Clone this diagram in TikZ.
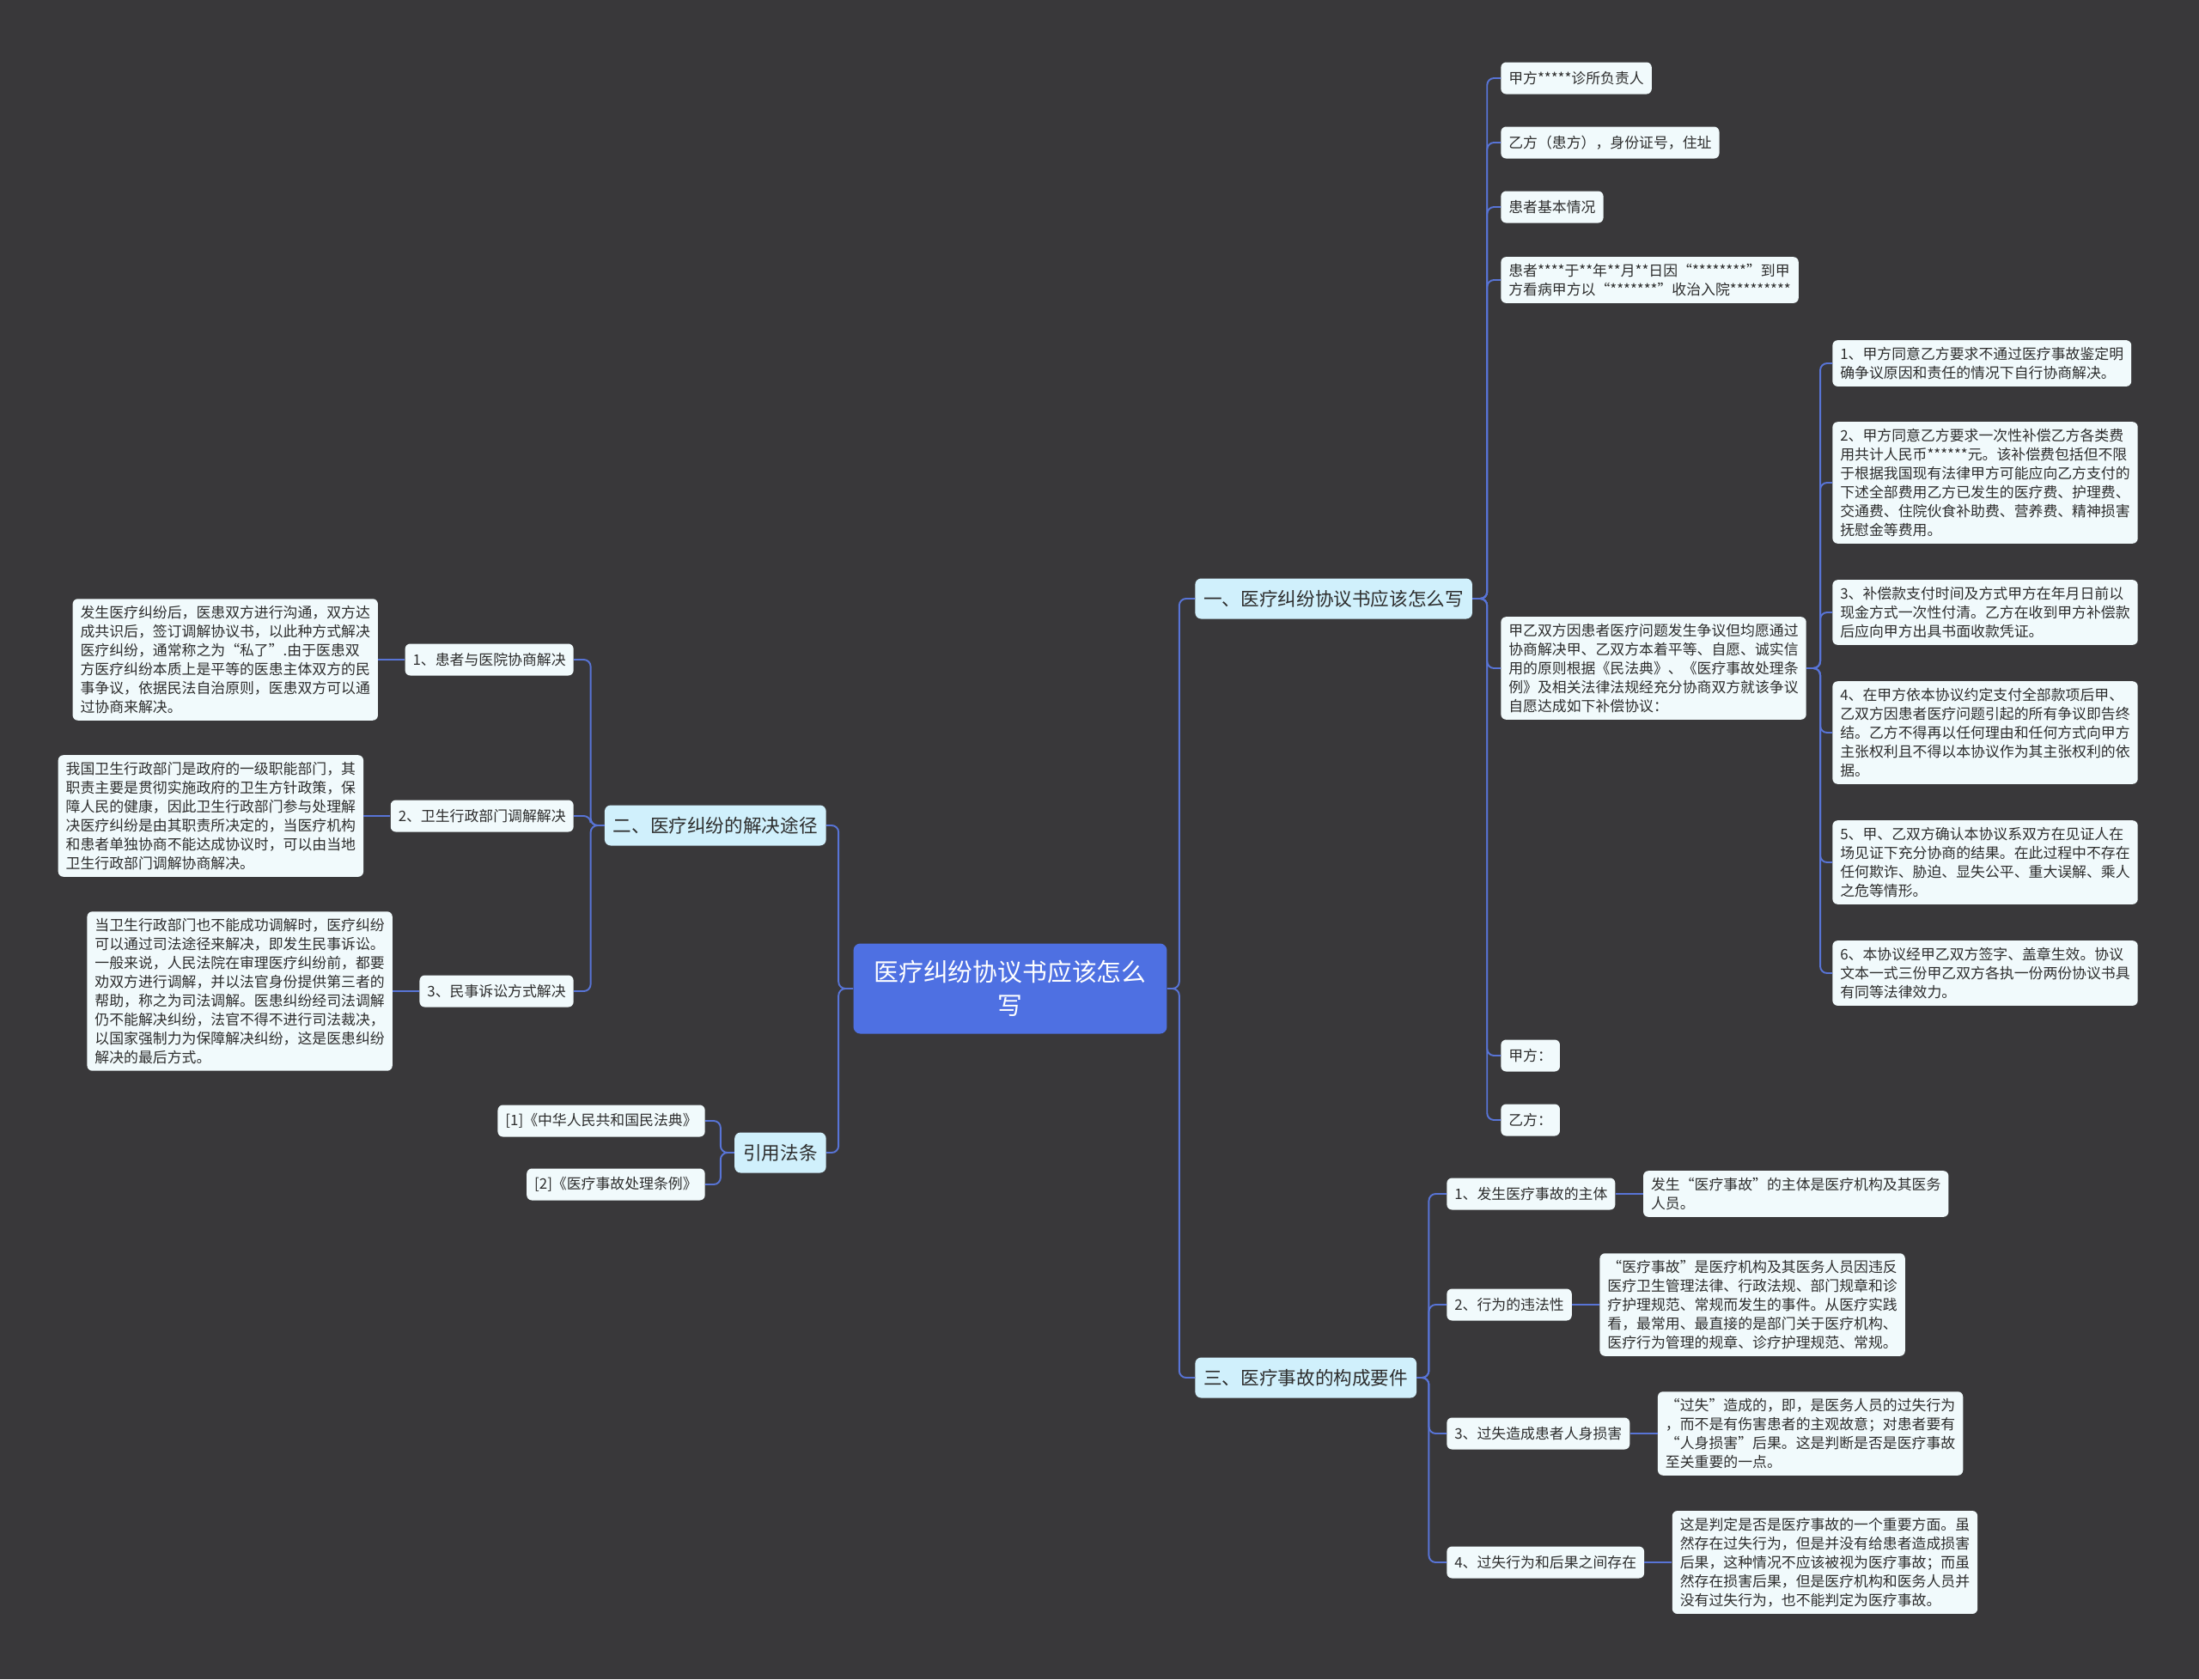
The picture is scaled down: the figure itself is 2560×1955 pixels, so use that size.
\documentclass[tikz,border=0pt]{standalone}
\usepackage{fontspec}
\setmainfont{Noto Sans CJK SC}
\usetikzlibrary{positioning,calc}

\definecolor{bgdark}{RGB}{57,56,58}
\definecolor{rootblue}{RGB}{78,112,226}
\definecolor{topicblue}{RGB}{208,240,252}
\definecolor{leafwhite}{RGB}{241,250,252}
\definecolor{linkblue}{RGB}{88,116,214}
\definecolor{inkgray}{RGB}{45,45,45}

\begin{document}
\begin{tikzpicture}[
	x=0.02cm, y=-0.02cm,
	root/.style={rectangle, rounded corners=0.16cm, fill=rootblue, text=white, font=\fontsize{16.4pt}{22pt}\selectfont, align=center, minimum width=7.3cm, minimum height=2.1cm},
	topic/.style={rectangle, rounded corners=0.14cm, fill=topicblue, text=inkgray, font=\fontsize{12.3pt}{15pt}\selectfont, inner xsep=0.2cm, minimum height=0.94cm},
	leaf/.style={rectangle, rounded corners=0.12cm, fill=leafwhite, text=inkgray, font=\fontsize{9.6pt}{12.5pt}\selectfont, align=left, inner xsep=0.18cm, inner ysep=0.16cm, minimum height=0.74cm},
	link/.style={draw=linkblue, line width=1.1pt, rounded corners=0.16cm}
]

\fill[bgdark] (0,0) rectangle (2560,1955);
\useasboundingbox (0,0) rectangle (2560,1955);

% --- Root and main topics ---
\node[root] (root) at (1176,1151) {医疗纠纷协议书应该怎么\\写};
\node[topic, anchor=west] (one) at (1391,697) {一、医疗纠纷协议书应该怎么写};
\node[topic, anchor=west] (three) at (1391,1604) {三、医疗事故的构成要件};
\node[topic, anchor=east] (two) at (962,961) {二、医疗纠纷的解决途径};
\node[topic, anchor=east] (law) at (962,1342) {引用法条};

% --- Agreement contents ---
\node[leaf, anchor=west] (a1) at (1747,91) {甲方*****诊所负责人};
\node[leaf, anchor=west] (a2) at (1747,166) {乙方（患方），身份证号，住址};
\node[leaf, anchor=west] (a3) at (1747,241) {患者基本情况};
\node[leaf, anchor=west] (a4) at (1747,326) {患者****于**年**月**日因“********”到甲\\方看病甲方以“*******”收治入院*********};
\node[leaf, anchor=west] (a5) at (1747,778) {甲乙双方因患者医疗问题发生争议但均愿通过\\协商解决甲、乙双方本着平等、自愿、诚实信\\用的原则根据《民法典》、《医疗事故处理条\\例》及相关法律法规经充分协商双方就该争议\\自愿达成如下补偿协议：};
\node[leaf, anchor=west] (a6) at (1747,1229) {甲方：};
\node[leaf, anchor=west] (a7) at (1747,1304) {乙方：};

% --- Agreement clauses ---
\node[leaf, anchor=west] (p1) at (2133,423) {1、甲方同意乙方要求不通过医疗事故鉴定明\\确争议原因和责任的情况下自行协商解决。};
\node[leaf, anchor=west] (p2) at (2133,562) {2、甲方同意乙方要求一次性补偿乙方各类费\\用共计人民币******元。该补偿费包括但不限\\于根据我国现有法律甲方可能应向乙方支付的\\下述全部费用乙方已发生的医疗费、护理费、\\交通费、住院伙食补助费、营养费、精神损害\\抚慰金等费用。};
\node[leaf, anchor=west] (p3) at (2133,713) {3、补偿款支付时间及方式甲方在年月日前以\\现金方式一次性付清。乙方在收到甲方补偿款\\后应向甲方出具书面收款凭证。};
\node[leaf, anchor=west] (p4) at (2133,853) {4、在甲方依本协议约定支付全部款项后甲、\\乙双方因患者医疗问题引起的所有争议即告终\\结。乙方不得再以任何理由和任何方式向甲方\\主张权利且不得以本协议作为其主张权利的依\\据。};
\node[leaf, anchor=west] (p5) at (2133,1004) {5、甲、乙双方确认本协议系双方在见证人在\\场见证下充分协商的结果。在此过程中不存在\\任何欺诈、胁迫、显失公平、重大误解、乘人\\之危等情形。};
\node[leaf, anchor=west] (p6) at (2133,1133) {6、本协议经甲乙双方签字、盖章生效。协议\\文本一式三份甲乙双方各执一份两份协议书具\\有同等法律效力。};

% --- Elements of a medical accident ---
\node[leaf, anchor=west] (c1) at (1684,1390) {1、发生医疗事故的主体};
\node[leaf, anchor=west] (c2) at (1684,1519) {2、行为的违法性};
\node[leaf, anchor=west] (c3) at (1684,1669) {3、过失造成患者人身损害};
\node[leaf, anchor=west] (c4) at (1684,1819) {4、过失行为和后果之间存在};
\node[leaf, right=0.64cm of c1] (d1) {发生“医疗事故”的主体是医疗机构及其医务\\人员。};
\node[leaf, right=0.64cm of c2] (d2) {“医疗事故”是医疗机构及其医务人员因违反\\医疗卫生管理法律、行政法规、部门规章和诊\\疗护理规范、常规而发生的事件。从医疗实践\\看，最常用、最直接的是部门关于医疗机构、\\医疗行为管理的规章、诊疗护理规范、常规。};
\node[leaf, right=0.64cm of c3] (d3) {“过失”造成的，即，是医务人员的过失行为\\，而不是有伤害患者的主观故意；对患者要有\\“人身损害”后果。这是判断是否是医疗事故\\至关重要的一点。};
\node[leaf, right=0.64cm of c4] (d4) {这是判定是否是医疗事故的一个重要方面。虽\\然存在过失行为，但是并没有给患者造成损害\\后果，这种情况不应该被视为医疗事故；而虽\\然存在损害后果，但是医疗机构和医务人员并\\没有过失行为，也不能判定为医疗事故。};

% --- Ways of resolving ---
\node[leaf, anchor=east] (b1) at (668,768) {1、患者与医院协商解决};
\node[leaf, anchor=east] (b2) at (668,950) {2、卫生行政部门调解解决};
\node[leaf, anchor=east] (b3) at (668,1154) {3、民事诉讼方式解决};
\node[leaf, left=0.62cm of b1] (e1) {发生医疗纠纷后，医患双方进行沟通，双方达\\成共识后，签订调解协议书，以此种方式解决\\医疗纠纷，通常称之为“私了”.由于医患双\\方医疗纠纷本质上是平等的医患主体双方的民\\事争议，依据民法自治原则，医患双方可以通\\过协商来解决。};
\node[leaf, left=0.62cm of b2] (e2) {我国卫生行政部门是政府的一级职能部门，其\\职责主要是贯彻实施政府的卫生方针政策，保\\障人民的健康，因此卫生行政部门参与处理解\\决医疗纠纷是由其职责所决定的，当医疗机构\\和患者单独协商不能达成协议时，可以由当地\\卫生行政部门调解协商解决。};
\node[leaf, left=0.62cm of b3] (e3) {当卫生行政部门也不能成功调解时，医疗纠纷\\可以通过司法途径来解决，即发生民事诉讼。\\一般来说，人民法院在审理医疗纠纷前，都要\\劝双方进行调解，并以法官身份提供第三者的\\帮助，称之为司法调解。医患纠纷经司法调解\\仍不能解决纠纷，法官不得不进行司法裁决，\\以国家强制力为保障解决纠纷，这是医患纠纷\\解决的最后方式。};

% --- Cited laws ---
\node[leaf, anchor=east] (f1) at (821,1305) {[1]《中华人民共和国民法典》};
\node[leaf, anchor=east] (f2) at (821,1379) {[2]《医疗事故处理条例》};

% --- Connectors ---
\foreach \t in {one,three}
  \draw[link] (root.east) -- ++(14,0) |- (\t.west);
\foreach \t in {two,law}
  \draw[link] (root.west) -- ++(-17,0) |- (\t.east);
\foreach \i in {1,...,7}
  \draw[link] (one.east) -- ++(17,0) |- (a\i.west);
\foreach \i in {1,...,6}
  \draw[link] (a5.east) -- ++(16,0) |- (p\i.west);
\foreach \i in {1,...,4} {
  \draw[link] (three.east) -- ++(14,0) |- (c\i.west);
  \draw[link] (c\i.east) -- (d\i.west);
}
\foreach \i in {1,2,3} {
  \draw[link] (two.west) -- ++(-16,0) |- (b\i.east);
  \draw[link] (e\i.east) -- (b\i.west);
}
\foreach \i in {1,2}
  \draw[link] (law.west) -- ++(-16,0) |- (f\i.east);

\end{tikzpicture}
\end{document}
